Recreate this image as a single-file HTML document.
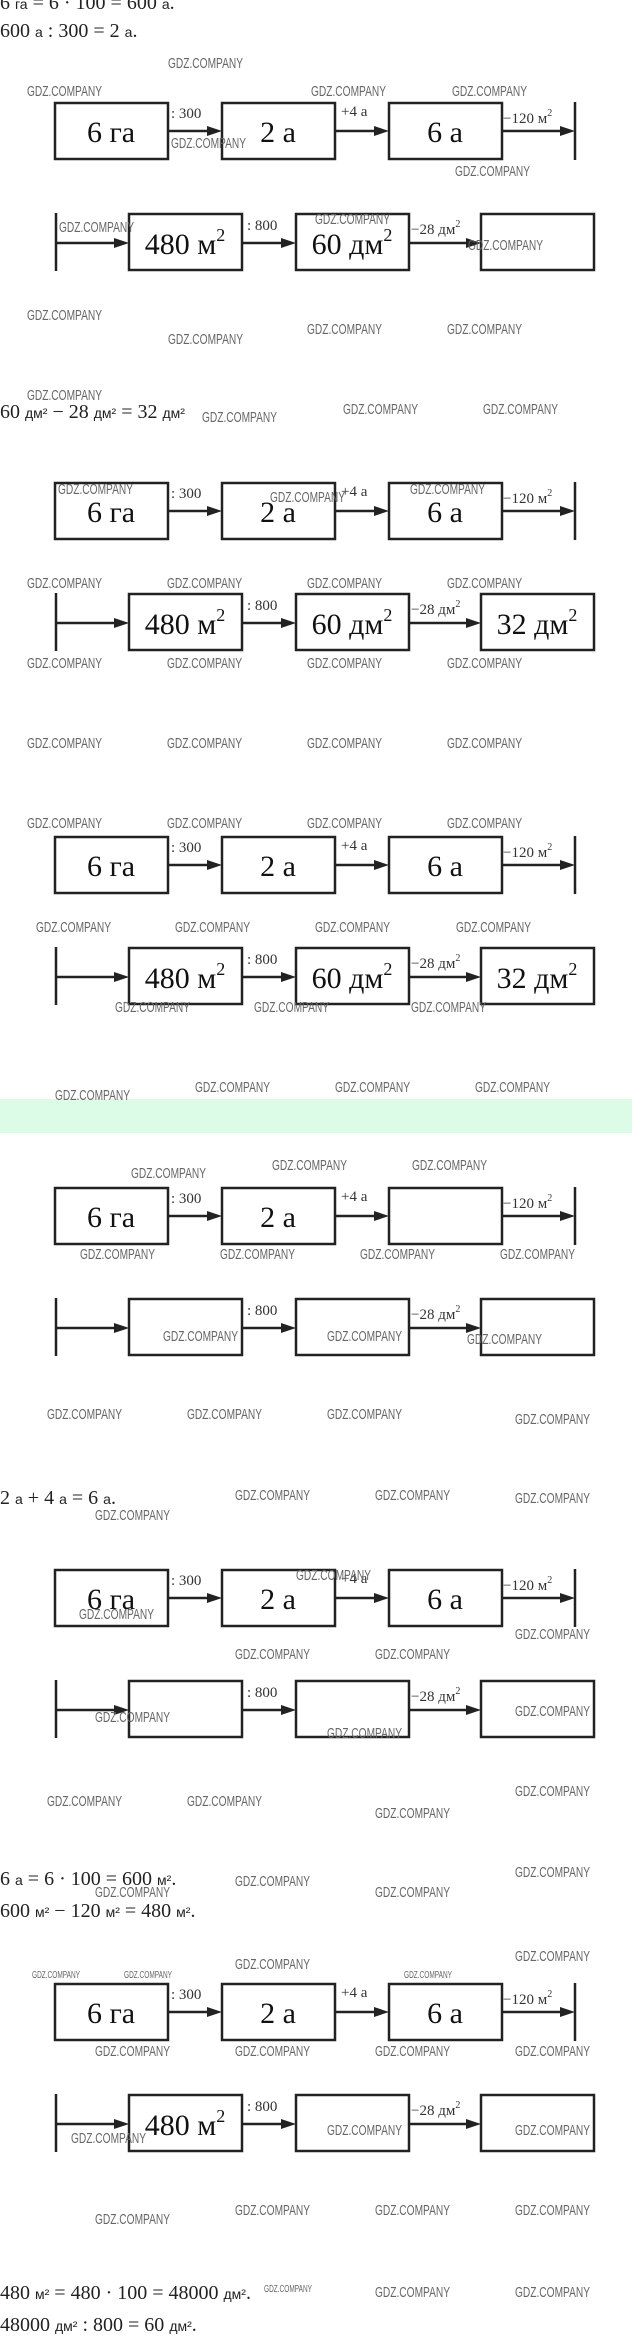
<!DOCTYPE html>
<html><head><meta charset="utf-8"><style>
html,body{margin:0;padding:0;background:#fff;width:632px;height:2343px;overflow:hidden}
svg{display:block}
.eq{font-family:"Liberation Serif",serif;font-size:20px;fill:#222}
.u{font-family:"Liberation Sans",sans-serif;font-size:14px}
.bx{font-family:"Liberation Serif","DejaVu Serif",serif;font-size:30px;fill:#111;text-anchor:middle}
.lb{font-family:"Liberation Serif","DejaVu Serif",serif;font-size:15px;fill:#333}
.wm{font-family:"Liberation Sans",sans-serif;font-size:15px;fill:#666}
.ws{font-family:"Liberation Sans",sans-serif;font-size:10px;fill:#666}
</style></head><body>
<svg width="632" height="2343" viewBox="0 0 632 2343" xmlns="http://www.w3.org/2000/svg">
<defs>
<g id="sh" stroke="#222" stroke-width="2.5" fill="none">
<rect x="55" y="0" width="113" height="56"/>
<rect x="222" y="0" width="113" height="56"/>
<rect x="389" y="0" width="113" height="56"/>
<line x1="168" y1="28" x2="210" y2="28"/>
<line x1="335" y1="28" x2="377" y2="28"/>
<line x1="502" y1="28" x2="563" y2="28"/>
<line x1="575" y1="-1" x2="575" y2="57"/>
<line x1="56" y1="110" x2="56" y2="168"/>
<line x1="56" y1="140" x2="117" y2="140"/>
<rect x="129" y="111" width="113" height="56"/>
<line x1="242" y1="140" x2="284" y2="140"/>
<rect x="296" y="111" width="113" height="56"/>
<line x1="409" y1="140" x2="469" y2="140"/>
<rect x="481" y="111" width="113" height="56"/>
<g fill="#222" stroke="none">
<polygon points="222,28 207,23 207,33"/>
<polygon points="389,28 374,23 374,33"/>
<polygon points="575,28 560,23 560,33"/>
<polygon points="129,140 114,135 114,145"/>
<polygon points="296,140 281,135 281,145"/>
<polygon points="481,140 466,135 466,145"/>
</g>
</g>
</defs>

<text class="eq" x="0" y="9">6 <tspan class="u">га</tspan> = 6 · 100 = 600 <tspan class="u">а</tspan>.</text>
<text class="eq" x="0" y="37">600 <tspan class="u">а</tspan> : 300 = 2 <tspan class="u">а</tspan>.</text>
<text class="eq" x="0" y="418">60 <tspan class="u">дм²</tspan> − 28 <tspan class="u">дм²</tspan> = 32 <tspan class="u">дм²</tspan></text>
<rect x="0" y="1099" width="632" height="34" fill="#dcfce8"/>
<text class="eq" x="0" y="1504">2 <tspan class="u">а</tspan> + 4 <tspan class="u">а</tspan> = 6 <tspan class="u">а</tspan>.</text>
<text class="eq" x="0" y="1885">6 <tspan class="u">а</tspan> = 6 · 100 = 600 <tspan class="u">м²</tspan>.</text>
<text class="eq" x="0" y="1917">600 <tspan class="u">м²</tspan> − 120 <tspan class="u">м²</tspan> = 480 <tspan class="u">м²</tspan>.</text>
<text class="eq" x="0" y="2299">480 <tspan class="u">м²</tspan> = 480 · 100 = 48000 <tspan class="u">дм²</tspan>.</text>
<text class="eq" x="0" y="2331">48000 <tspan class="u">дм²</tspan> :  800 =  60 <tspan class="u">дм²</tspan>.</text>

<g transform="translate(0,103)">
<use href="#sh"/>
<text class="lb" x="171" y="15">: 300</text><text class="lb" x="341" y="13">+4 а</text>
<text class="lb" x="503" y="20">−120 м<tspan font-size="10" dy="-7">2</tspan></text>
<text class="lb" x="247" y="127">: 800</text>
<text class="lb" x="411" y="131">−28 дм<tspan font-size="10" dy="-7">2</tspan></text>
<text class="bx" x="111" y="39">6 га</text><text class="bx" x="278" y="39">2 а</text><text class="bx" x="445" y="39">6 а</text>
<text class="bx" x="185" y="151">480 м<tspan font-size="18" dy="-13">2</tspan></text>
<text class="bx" x="352" y="151">60 дм<tspan font-size="18" dy="-13">2</tspan></text>
</g>
<g transform="translate(0,483)">
<use href="#sh"/>
<text class="lb" x="171" y="15">: 300</text><text class="lb" x="341" y="13">+4 а</text>
<text class="lb" x="503" y="20">−120 м<tspan font-size="10" dy="-7">2</tspan></text>
<text class="lb" x="247" y="127">: 800</text>
<text class="lb" x="411" y="131">−28 дм<tspan font-size="10" dy="-7">2</tspan></text>
<text class="bx" x="111" y="39">6 га</text><text class="bx" x="278" y="39">2 а</text><text class="bx" x="445" y="39">6 а</text>
<text class="bx" x="185" y="151">480 м<tspan font-size="18" dy="-13">2</tspan></text>
<text class="bx" x="352" y="151">60 дм<tspan font-size="18" dy="-13">2</tspan></text>
<text class="bx" x="537" y="151">32 дм<tspan font-size="18" dy="-13">2</tspan></text>
</g>
<g transform="translate(0,837)">
<use href="#sh"/>
<text class="lb" x="171" y="15">: 300</text><text class="lb" x="341" y="13">+4 а</text>
<text class="lb" x="503" y="20">−120 м<tspan font-size="10" dy="-7">2</tspan></text>
<text class="lb" x="247" y="127">: 800</text>
<text class="lb" x="411" y="131">−28 дм<tspan font-size="10" dy="-7">2</tspan></text>
<text class="bx" x="111" y="39">6 га</text><text class="bx" x="278" y="39">2 а</text><text class="bx" x="445" y="39">6 а</text>
<text class="bx" x="185" y="151">480 м<tspan font-size="18" dy="-13">2</tspan></text>
<text class="bx" x="352" y="151">60 дм<tspan font-size="18" dy="-13">2</tspan></text>
<text class="bx" x="537" y="151">32 дм<tspan font-size="18" dy="-13">2</tspan></text>
</g>
<g transform="translate(0,1188)">
<use href="#sh"/>
<text class="lb" x="171" y="15">: 300</text><text class="lb" x="341" y="13">+4 а</text>
<text class="lb" x="503" y="20">−120 м<tspan font-size="10" dy="-7">2</tspan></text>
<text class="lb" x="247" y="127">: 800</text>
<text class="lb" x="411" y="131">−28 дм<tspan font-size="10" dy="-7">2</tspan></text>
<text class="bx" x="111" y="39">6 га</text><text class="bx" x="278" y="39">2 а</text>
</g>
<g transform="translate(0,1570)">
<use href="#sh"/>
<text class="lb" x="171" y="15">: 300</text><text class="lb" x="341" y="13">+4 а</text>
<text class="lb" x="503" y="20">−120 м<tspan font-size="10" dy="-7">2</tspan></text>
<text class="lb" x="247" y="127">: 800</text>
<text class="lb" x="411" y="131">−28 дм<tspan font-size="10" dy="-7">2</tspan></text>
<text class="bx" x="111" y="39">6 га</text><text class="bx" x="278" y="39">2 а</text><text class="bx" x="445" y="39">6 а</text>
</g>
<g transform="translate(0,1984)">
<use href="#sh"/>
<text class="lb" x="171" y="15">: 300</text><text class="lb" x="341" y="13">+4 а</text>
<text class="lb" x="503" y="20">−120 м<tspan font-size="10" dy="-7">2</tspan></text>
<text class="lb" x="247" y="127">: 800</text>
<text class="lb" x="411" y="131">−28 дм<tspan font-size="10" dy="-7">2</tspan></text>
<text class="bx" x="111" y="39">6 га</text><text class="bx" x="278" y="39">2 а</text><text class="bx" x="445" y="39">6 а</text>
<text class="bx" x="185" y="151">480 м<tspan font-size="18" dy="-13">2</tspan></text>
</g>

<g class="wm">
<text x="168" y="68" textLength="75" lengthAdjust="spacingAndGlyphs">GDZ.COMPANY</text>
<text x="27" y="96" textLength="75" lengthAdjust="spacingAndGlyphs">GDZ.COMPANY</text>
<text x="311" y="96" textLength="75" lengthAdjust="spacingAndGlyphs">GDZ.COMPANY</text>
<text x="452" y="96" textLength="75" lengthAdjust="spacingAndGlyphs">GDZ.COMPANY</text>
<text x="171" y="148" textLength="75" lengthAdjust="spacingAndGlyphs">GDZ.COMPANY</text>
<text x="455" y="176" textLength="75" lengthAdjust="spacingAndGlyphs">GDZ.COMPANY</text>
<text x="59" y="232" textLength="75" lengthAdjust="spacingAndGlyphs">GDZ.COMPANY</text>
<text x="315" y="224" textLength="75" lengthAdjust="spacingAndGlyphs">GDZ.COMPANY</text>
<text x="468" y="250" textLength="75" lengthAdjust="spacingAndGlyphs">GDZ.COMPANY</text>
<text x="27" y="320" textLength="75" lengthAdjust="spacingAndGlyphs">GDZ.COMPANY</text>
<text x="168" y="344" textLength="75" lengthAdjust="spacingAndGlyphs">GDZ.COMPANY</text>
<text x="307" y="334" textLength="75" lengthAdjust="spacingAndGlyphs">GDZ.COMPANY</text>
<text x="447" y="334" textLength="75" lengthAdjust="spacingAndGlyphs">GDZ.COMPANY</text>
<text x="27" y="400" textLength="75" lengthAdjust="spacingAndGlyphs">GDZ.COMPANY</text>
<text x="202" y="422" textLength="75" lengthAdjust="spacingAndGlyphs">GDZ.COMPANY</text>
<text x="343" y="414" textLength="75" lengthAdjust="spacingAndGlyphs">GDZ.COMPANY</text>
<text x="483" y="414" textLength="75" lengthAdjust="spacingAndGlyphs">GDZ.COMPANY</text>
<text x="58" y="494" textLength="75" lengthAdjust="spacingAndGlyphs">GDZ.COMPANY</text>
<text x="270" y="502" textLength="75" lengthAdjust="spacingAndGlyphs">GDZ.COMPANY</text>
<text x="410" y="494" textLength="75" lengthAdjust="spacingAndGlyphs">GDZ.COMPANY</text>
<text x="27" y="588" textLength="75" lengthAdjust="spacingAndGlyphs">GDZ.COMPANY</text>
<text x="167" y="588" textLength="75" lengthAdjust="spacingAndGlyphs">GDZ.COMPANY</text>
<text x="307" y="588" textLength="75" lengthAdjust="spacingAndGlyphs">GDZ.COMPANY</text>
<text x="447" y="588" textLength="75" lengthAdjust="spacingAndGlyphs">GDZ.COMPANY</text>
<text x="27" y="668" textLength="75" lengthAdjust="spacingAndGlyphs">GDZ.COMPANY</text>
<text x="167" y="668" textLength="75" lengthAdjust="spacingAndGlyphs">GDZ.COMPANY</text>
<text x="307" y="668" textLength="75" lengthAdjust="spacingAndGlyphs">GDZ.COMPANY</text>
<text x="447" y="668" textLength="75" lengthAdjust="spacingAndGlyphs">GDZ.COMPANY</text>
<text x="27" y="748" textLength="75" lengthAdjust="spacingAndGlyphs">GDZ.COMPANY</text>
<text x="167" y="748" textLength="75" lengthAdjust="spacingAndGlyphs">GDZ.COMPANY</text>
<text x="307" y="748" textLength="75" lengthAdjust="spacingAndGlyphs">GDZ.COMPANY</text>
<text x="447" y="748" textLength="75" lengthAdjust="spacingAndGlyphs">GDZ.COMPANY</text>
<text x="27" y="828" textLength="75" lengthAdjust="spacingAndGlyphs">GDZ.COMPANY</text>
<text x="167" y="828" textLength="75" lengthAdjust="spacingAndGlyphs">GDZ.COMPANY</text>
<text x="307" y="828" textLength="75" lengthAdjust="spacingAndGlyphs">GDZ.COMPANY</text>
<text x="447" y="828" textLength="75" lengthAdjust="spacingAndGlyphs">GDZ.COMPANY</text>
<text x="36" y="932" textLength="75" lengthAdjust="spacingAndGlyphs">GDZ.COMPANY</text>
<text x="175" y="932" textLength="75" lengthAdjust="spacingAndGlyphs">GDZ.COMPANY</text>
<text x="315" y="932" textLength="75" lengthAdjust="spacingAndGlyphs">GDZ.COMPANY</text>
<text x="456" y="932" textLength="75" lengthAdjust="spacingAndGlyphs">GDZ.COMPANY</text>
<text x="115" y="1012" textLength="75" lengthAdjust="spacingAndGlyphs">GDZ.COMPANY</text>
<text x="254" y="1012" textLength="75" lengthAdjust="spacingAndGlyphs">GDZ.COMPANY</text>
<text x="411" y="1012" textLength="75" lengthAdjust="spacingAndGlyphs">GDZ.COMPANY</text>
<text x="55" y="1100" textLength="75" lengthAdjust="spacingAndGlyphs">GDZ.COMPANY</text>
<text x="195" y="1092" textLength="75" lengthAdjust="spacingAndGlyphs">GDZ.COMPANY</text>
<text x="335" y="1092" textLength="75" lengthAdjust="spacingAndGlyphs">GDZ.COMPANY</text>
<text x="475" y="1092" textLength="75" lengthAdjust="spacingAndGlyphs">GDZ.COMPANY</text>
<text x="131" y="1178" textLength="75" lengthAdjust="spacingAndGlyphs">GDZ.COMPANY</text>
<text x="272" y="1170" textLength="75" lengthAdjust="spacingAndGlyphs">GDZ.COMPANY</text>
<text x="412" y="1170" textLength="75" lengthAdjust="spacingAndGlyphs">GDZ.COMPANY</text>
<text x="80" y="1259" textLength="75" lengthAdjust="spacingAndGlyphs">GDZ.COMPANY</text>
<text x="220" y="1259" textLength="75" lengthAdjust="spacingAndGlyphs">GDZ.COMPANY</text>
<text x="360" y="1259" textLength="75" lengthAdjust="spacingAndGlyphs">GDZ.COMPANY</text>
<text x="500" y="1259" textLength="75" lengthAdjust="spacingAndGlyphs">GDZ.COMPANY</text>
<text x="163" y="1341" textLength="75" lengthAdjust="spacingAndGlyphs">GDZ.COMPANY</text>
<text x="327" y="1341" textLength="75" lengthAdjust="spacingAndGlyphs">GDZ.COMPANY</text>
<text x="467" y="1344" textLength="75" lengthAdjust="spacingAndGlyphs">GDZ.COMPANY</text>
<text x="47" y="1419" textLength="75" lengthAdjust="spacingAndGlyphs">GDZ.COMPANY</text>
<text x="187" y="1419" textLength="75" lengthAdjust="spacingAndGlyphs">GDZ.COMPANY</text>
<text x="327" y="1419" textLength="75" lengthAdjust="spacingAndGlyphs">GDZ.COMPANY</text>
<text x="515" y="1424" textLength="75" lengthAdjust="spacingAndGlyphs">GDZ.COMPANY</text>
<text x="235" y="1500" textLength="75" lengthAdjust="spacingAndGlyphs">GDZ.COMPANY</text>
<text x="375" y="1500" textLength="75" lengthAdjust="spacingAndGlyphs">GDZ.COMPANY</text>
<text x="515" y="1503" textLength="75" lengthAdjust="spacingAndGlyphs">GDZ.COMPANY</text>
<text x="95" y="1520" textLength="75" lengthAdjust="spacingAndGlyphs">GDZ.COMPANY</text>
<text x="296" y="1580" textLength="75" lengthAdjust="spacingAndGlyphs">GDZ.COMPANY</text>
<text x="79" y="1619" textLength="75" lengthAdjust="spacingAndGlyphs">GDZ.COMPANY</text>
<text x="515" y="1639" textLength="75" lengthAdjust="spacingAndGlyphs">GDZ.COMPANY</text>
<text x="235" y="1659" textLength="75" lengthAdjust="spacingAndGlyphs">GDZ.COMPANY</text>
<text x="375" y="1659" textLength="75" lengthAdjust="spacingAndGlyphs">GDZ.COMPANY</text>
<text x="95" y="1722" textLength="75" lengthAdjust="spacingAndGlyphs">GDZ.COMPANY</text>
<text x="515" y="1716" textLength="75" lengthAdjust="spacingAndGlyphs">GDZ.COMPANY</text>
<text x="327" y="1738" textLength="75" lengthAdjust="spacingAndGlyphs">GDZ.COMPANY</text>
<text x="47" y="1806" textLength="75" lengthAdjust="spacingAndGlyphs">GDZ.COMPANY</text>
<text x="187" y="1806" textLength="75" lengthAdjust="spacingAndGlyphs">GDZ.COMPANY</text>
<text x="515" y="1796" textLength="75" lengthAdjust="spacingAndGlyphs">GDZ.COMPANY</text>
<text x="375" y="1818" textLength="75" lengthAdjust="spacingAndGlyphs">GDZ.COMPANY</text>
<text x="515" y="1877" textLength="75" lengthAdjust="spacingAndGlyphs">GDZ.COMPANY</text>
<text x="235" y="1886" textLength="75" lengthAdjust="spacingAndGlyphs">GDZ.COMPANY</text>
<text x="95" y="1897" textLength="75" lengthAdjust="spacingAndGlyphs">GDZ.COMPANY</text>
<text x="375" y="1897" textLength="75" lengthAdjust="spacingAndGlyphs">GDZ.COMPANY</text>
<text x="515" y="1961" textLength="75" lengthAdjust="spacingAndGlyphs">GDZ.COMPANY</text>
<text x="235" y="1969" textLength="75" lengthAdjust="spacingAndGlyphs">GDZ.COMPANY</text>
<text x="95" y="2056" textLength="75" lengthAdjust="spacingAndGlyphs">GDZ.COMPANY</text>
<text x="235" y="2056" textLength="75" lengthAdjust="spacingAndGlyphs">GDZ.COMPANY</text>
<text x="375" y="2056" textLength="75" lengthAdjust="spacingAndGlyphs">GDZ.COMPANY</text>
<text x="515" y="2056" textLength="75" lengthAdjust="spacingAndGlyphs">GDZ.COMPANY</text>
<text x="71" y="2143" textLength="75" lengthAdjust="spacingAndGlyphs">GDZ.COMPANY</text>
<text x="327" y="2135" textLength="75" lengthAdjust="spacingAndGlyphs">GDZ.COMPANY</text>
<text x="515" y="2135" textLength="75" lengthAdjust="spacingAndGlyphs">GDZ.COMPANY</text>
<text x="95" y="2224" textLength="75" lengthAdjust="spacingAndGlyphs">GDZ.COMPANY</text>
<text x="235" y="2215" textLength="75" lengthAdjust="spacingAndGlyphs">GDZ.COMPANY</text>
<text x="375" y="2215" textLength="75" lengthAdjust="spacingAndGlyphs">GDZ.COMPANY</text>
<text x="515" y="2215" textLength="75" lengthAdjust="spacingAndGlyphs">GDZ.COMPANY</text>
<text x="375" y="2297" textLength="75" lengthAdjust="spacingAndGlyphs">GDZ.COMPANY</text>
<text x="515" y="2297" textLength="75" lengthAdjust="spacingAndGlyphs">GDZ.COMPANY</text>
</g>
<g class="ws">
<text x="32" y="1978" textLength="48" lengthAdjust="spacingAndGlyphs">GDZ.COMPANY</text>
<text x="124" y="1978" textLength="48" lengthAdjust="spacingAndGlyphs">GDZ.COMPANY</text>
<text x="404" y="1978" textLength="48" lengthAdjust="spacingAndGlyphs">GDZ.COMPANY</text>
<text x="264" y="2292" textLength="48" lengthAdjust="spacingAndGlyphs">GDZ.COMPANY</text>
</g>
</svg>
</body></html>
